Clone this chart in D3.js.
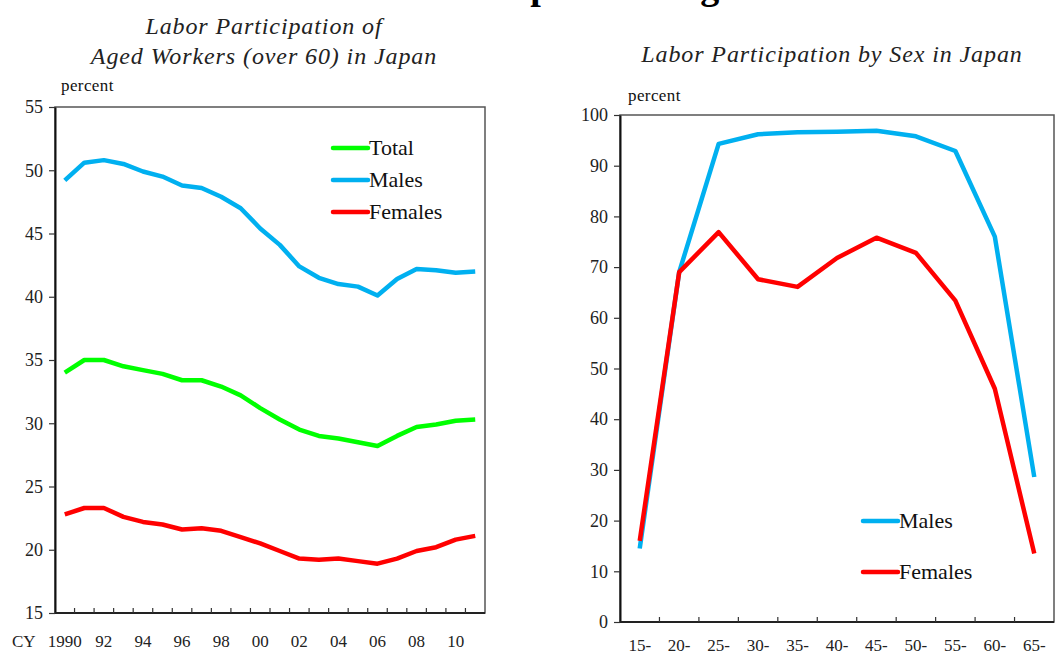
<!DOCTYPE html>
<html>
<head>
<meta charset="utf-8">
<script src="https://cdn.jsdelivr.net/npm/d3@7"></script>
<style>
  body { margin: 0; background: #fff; }
  svg { display: block; }
  svg text { font-family: "Liberation Serif", "Times New Roman", serif; }
</style>
</head>
<body>
<script>
const width = 1055;
const height = 655;

// left chart: aged workers (over 60), CY 1990-2011
const years = d3.range(1990, 2012);
const yearLabels = ["1990", "92", "94", "96", "98", "00", "02", "04", "06", "08", "10"];
const totalAged = [34.0, 35.0, 35.0, 34.5, 34.2, 33.9, 33.4, 33.4, 32.9, 32.2, 31.2, 30.3, 29.5, 29.0, 28.8, 28.5, 28.2, 29.0, 29.7, 29.9, 30.2, 30.3];
const malesAged = [49.2, 50.6, 50.8, 50.5, 49.9, 49.5, 48.8, 48.6, 47.9, 47.0, 45.4, 44.1, 42.4, 41.5, 41.0, 40.8, 40.1, 41.4, 42.2, 42.1, 41.9, 42.0];
const femalesAged = [22.8, 23.3, 23.3, 22.6, 22.2, 22.0, 21.6, 21.7, 21.5, 21.0, 20.5, 19.9, 19.3, 19.2, 19.3, 19.1, 18.9, 19.3, 19.9, 20.2, 20.8, 21.1];
const leftTicks = [15, 20, 25, 30, 35, 40, 45, 50, 55];

// right chart: by age group
const ageGroups = ["15-", "20-", "25-", "30-", "35-", "40-", "45-", "50-", "55-", "60-", "65-"];
const malesBySex = [14.5, 69.0, 94.3, 96.2, 96.6, 96.7, 96.9, 95.8, 92.9, 76.0, 28.6];
const femalesBySex = [16.0, 69.0, 76.9, 67.6, 66.1, 71.8, 75.8, 72.8, 63.4, 46.0, 13.5];
const rightTicks = d3.range(0, 101, 10);

const colores = { total: "#00ff00", males: "#00b0f0", females: "#ff0000" };

const svg = d3.select("body").append("svg")
  .attr("width", width)
  .attr("height", height);

// cut-off page heading at the very top (only descenders show)
svg.append("text")
  .attr("x", 488)
  .attr("y", -1)
  .attr("font-size", 38)
  .attr("font-weight", "bold")
  .text("Population Aged");

function dibujarPanel(cfg) {
  const { left, right, top, bottom } = cfg;

  const x = d3.scaleBand().domain(cfg.categorias).range([left, right]).padding(0);
  const y = d3.scaleLinear().domain(cfg.dominio).range([bottom, top]);

  const g = svg.append("g");

  // box
  g.append("rect")
    .attr("x", left).attr("y", top)
    .attr("width", right - left).attr("height", bottom - top)
    .attr("fill", "none")
    .attr("stroke", "#555")
    .attr("stroke-width", 1.5);

  // y axis
  const ejeY = g.append("g")
    .attr("transform", `translate(${left},0)`)
    .call(d3.axisLeft(y).tickValues(cfg.ticksY).tickSize(6).tickPadding(6).tickSizeOuter(0))
    .attr("font-family", null)
    .attr("font-size", null);
  ejeY.select(".domain").attr("stroke", "#111").attr("stroke-width", 2);
  ejeY.selectAll("line").attr("stroke", "#333").attr("stroke-width", 1.2);
  ejeY.selectAll("text")
    .attr("font-size", 18)
    .attr("fill", "#222");

  // x axis line and boundary ticks
  g.append("line")
    .attr("x1", left).attr("x2", right)
    .attr("y1", bottom).attr("y2", bottom)
    .attr("stroke", "#222").attr("stroke-width", 2);
  g.selectAll(".tickX")
    .data(cfg.categorias.slice(1))
    .join("line")
    .attr("x1", (d) => x(d)).attr("x2", (d) => x(d))
    .attr("y1", bottom).attr("y2", bottom - 5)
    .attr("stroke", "#333").attr("stroke-width", 1.2);

  // x labels
  g.selectAll(".labelX")
    .data(cfg.etiquetasX)
    .join("text")
    .attr("x", (d) => x(d.cat) + x.bandwidth() / 2)
    .attr("y", cfg.labelY)
    .attr("text-anchor", "middle")
    .attr("font-size", 17)
    .attr("fill", "#222")
    .text((d) => d.texto);

  // unit label
  g.append("text")
    .attr("x", cfg.percentX)
    .attr("y", cfg.percentY)
    .attr("font-size", 17)
    .attr("letter-spacing", 0.4)
    .attr("fill", "#111")
    .text("percent");

  // title
  g.append("text")
    .attr("x", cfg.tituloX)
    .attr("y", cfg.tituloY)
    .attr("text-anchor", "middle")
    .attr("font-size", 24)
    .attr("letter-spacing", 0.9)
    .attr("font-style", "italic")
    .attr("fill", "#222")
    .selectAll("tspan")
    .data(cfg.titulo)
    .join("tspan")
    .attr("x", cfg.tituloX)
    .attr("dy", (d, i) => (i === 0 ? 0 : 30))
    .text((d) => d);

  const linea = d3.line()
    .x((d, i) => x(cfg.categorias[i]) + x.bandwidth() / 2)
    .y((d) => y(d));

  cfg.series.forEach((s) => {
    g.append("path")
      .datum(s.valores)
      .attr("fill", "none")
      .attr("stroke", s.color)
      .attr("stroke-width", 4.5)
      .attr("stroke-linejoin", "round")
      .attr("d", linea);
  });

  // legend
  const leyenda = g.selectAll(".leyenda")
    .data(cfg.leyenda.items)
    .join("g")
    .attr("transform", (d, i) => `translate(${cfg.leyenda.x},${cfg.leyenda.y + i * cfg.leyenda.paso})`);
  leyenda.append("line")
    .attr("x1", 0).attr("x2", 35)
    .attr("stroke", (d) => d.color)
    .attr("stroke-width", 4.5)
    .attr("stroke-linecap", "round");
  leyenda.append("text")
    .attr("x", 36)
    .attr("y", 7)
    .attr("font-size", 22)
    .attr("fill", "#111")
    .text((d) => d.nombre);

  return { x, y };
}

dibujarPanel({
  left: 55, right: 485, top: 107, bottom: 613,
  categorias: years,
  dominio: [15, 55],
  ticksY: leftTicks,
  etiquetasX: yearLabels.map((t, i) => ({ cat: years[i * 2], texto: t })),
  labelY: 647,
  percentX: 61, percentY: 91,
  tituloX: 264, tituloY: 34,
  titulo: ["Labor Participation of", "Aged Workers (over 60) in Japan"],
  series: [
    { valores: totalAged, color: colores.total },
    { valores: malesAged, color: colores.males },
    { valores: femalesAged, color: colores.females },
  ],
  leyenda: {
    x: 333, y: 148, paso: 32,
    items: [
      { nombre: "Total", color: colores.total },
      { nombre: "Males", color: colores.males },
      { nombre: "Females", color: colores.females },
    ],
  },
});

svg.append("text")
  .attr("x", 12)
  .attr("y", 647)
  .attr("font-size", 17)
  .attr("fill", "#222")
  .text("CY");

dibujarPanel({
  left: 620, right: 1054, top: 115, bottom: 622,
  categorias: ageGroups,
  dominio: [0, 100],
  ticksY: rightTicks,
  etiquetasX: ageGroups.map((t) => ({ cat: t, texto: t })),
  labelY: 651,
  percentX: 628, percentY: 101,
  tituloX: 832, tituloY: 62,
  titulo: ["Labor Participation by Sex in Japan"],
  series: [
    { valores: malesBySex, color: colores.males },
    { valores: femalesBySex, color: colores.females },
  ],
  leyenda: {
    x: 863, y: 521, paso: 51,
    items: [
      { nombre: "Males", color: colores.males },
      { nombre: "Females", color: colores.females },
    ],
  },
});
</script>
</body>
</html>
